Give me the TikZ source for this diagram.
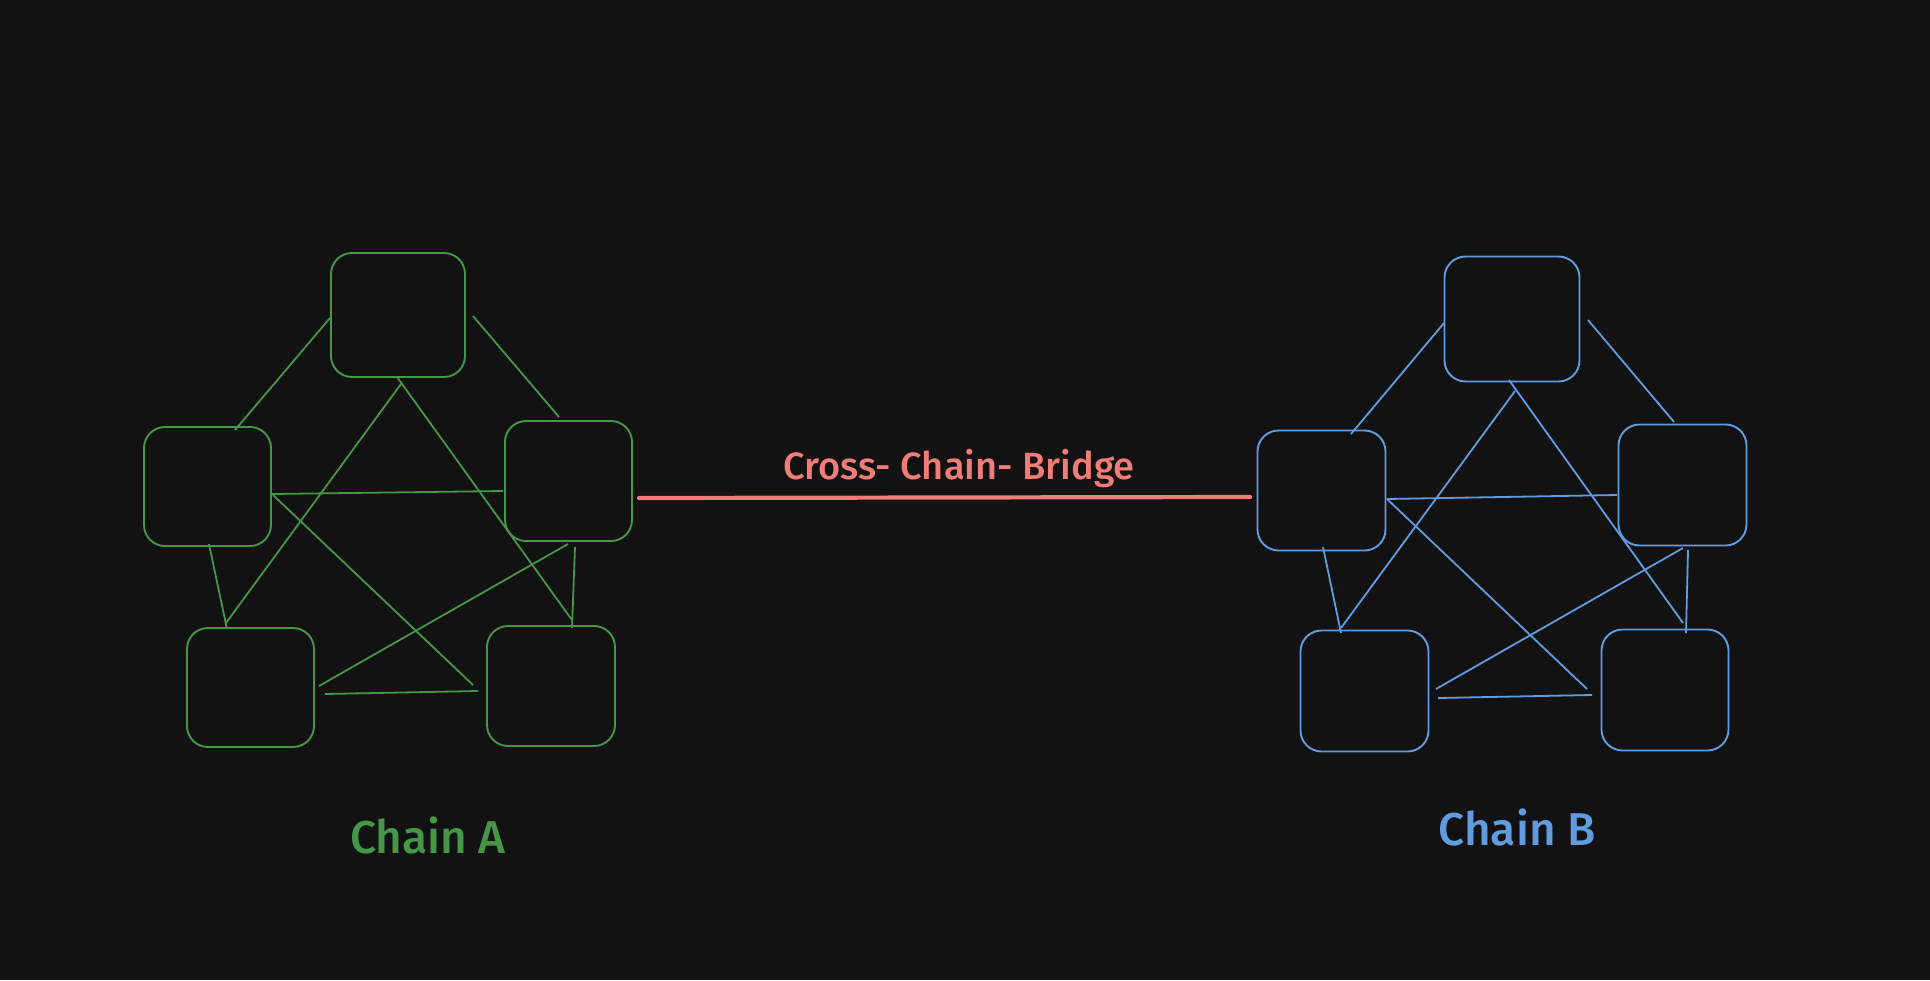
\documentclass[tikz,border=0pt]{standalone}
\usepackage{fontspec}
\setmainfont{Fira Sans}[BoldFont={Fira Sans Medium}]
\definecolor{bg}{RGB}{18,18,18}
\definecolor{cgreen}{RGB}{70,150,72}
\definecolor{cblue}{RGB}{96,156,224}
\definecolor{cred}{RGB}{242,124,118}
\tikzset{
  boxA/.style={draw=cgreen, line width=1.9pt, rounded corners=21pt, minimum width=130pt, minimum height=122pt, inner sep=0pt},
  boxB/.style={draw=cblue, line width=1.9pt, rounded corners=21pt, minimum width=130pt, minimum height=122pt, inner sep=0pt},
  linkA/.style={draw=cgreen, line width=1.8pt},
  linkB/.style={draw=cblue, line width=1.8pt},
  bridge/.style={draw=cred, line width=4.2pt, line cap=round},
  lbl/.style={inner sep=0pt, anchor=center}
}
\begin{document}
\begin{tikzpicture}[x=1pt,y=-1pt]
\fill[bg] (0,0) rectangle (1930,980);
\useasboundingbox (0,0) rectangle (1930,980);

% Chain A nodes
\node[boxA, minimum width=134pt, minimum height=124pt] (aT) at (398,315) {};
\node[boxA, minimum width=127pt, minimum height=119pt] (aL) at (207.5,486.5) {};
\node[boxA, minimum width=127pt, minimum height=120pt] (aR) at (568.5,481) {};
\node[boxA, minimum width=127pt, minimum height=119pt] (aBL) at (250.5,687.5) {};
\node[boxA, minimum width=128pt, minimum height=120pt] (aBR) at (551,686) {};

% Chain A connector end points
\coordinate (a1s) at (330,318); \coordinate (a1e) at (235,430);
\coordinate (a2s) at (473,316); \coordinate (a2e) at (559,417);
\coordinate (a3s) at (397,377); \coordinate (a3e) at (572,620);
\coordinate (a4s) at (401,384); \coordinate (a4e) at (226,623);
\coordinate (a5s) at (272,494); \coordinate (a5e) at (503,491);
\coordinate (a6s) at (273,495); \coordinate (a6e) at (473,685);
\coordinate (a7s) at (209,544); \coordinate (a7e) at (227,629);
\coordinate (a8s) at (568,544); \coordinate (a8e) at (319,686);
\coordinate (a9s) at (575,547); \coordinate (a9e) at (572,628);
\coordinate (a10s) at (325,694); \coordinate (a10e) at (478,691);
\foreach \i in {1,...,10} { \draw[linkA] (a\i s) -- (a\i e); }

% Chain B nodes
\node[boxB, minimum width=135pt, minimum height=125pt] (bT) at (1512,319) {};
\node[boxB, minimum width=128pt, minimum height=120pt] (bL) at (1321.5,490.5) {};
\node[boxB, minimum width=128pt, minimum height=121pt] (bR) at (1682.5,485) {};
\node[boxB, minimum width=128pt, minimum height=121pt] (bBL) at (1364.5,691) {};
\node[boxB, minimum width=127pt, minimum height=121pt] (bBR) at (1665,690) {};

% Chain B connector end points
\coordinate (b1s) at (1444,323); \coordinate (b1e) at (1351,434);
\coordinate (b2s) at (1588,320); \coordinate (b2e) at (1674,422);
\coordinate (b3s) at (1509,380); \coordinate (b3e) at (1683,623);
\coordinate (b4s) at (1515,391); \coordinate (b4e) at (1341,628);
\coordinate (b5s) at (1387,499); \coordinate (b5e) at (1617,495);
\coordinate (b6s) at (1387,499); \coordinate (b6e) at (1587,689);
\coordinate (b7s) at (1323,547); \coordinate (b7e) at (1341,633);
\coordinate (b8s) at (1683,548); \coordinate (b8e) at (1436,689);
\coordinate (b9s) at (1688,550); \coordinate (b9e) at (1686,633);
\coordinate (b10s) at (1438,698); \coordinate (b10e) at (1592,695);
\foreach \i in {1,...,10} { \draw[linkB] (b\i s) -- (b\i e); }

% Bridge
\coordinate (brS) at (639,498);
\coordinate (brE) at (1250,497);
\draw[bridge] (brS) -- (brE);
\node[lbl, text=cred, font=\fontsize{38}{44}\bfseries] (brL) at (959,468) {Cross- Chain- Bridge};

% Labels
\node[lbl, text=cgreen, font=\fontsize{46}{52}\bfseries] (labA) at (428,836) {Chain A};
\node[lbl, text=cblue, font=\fontsize{46}{52}\bfseries] (labB) at (1517,828) {Chain B};
\end{tikzpicture}
\end{document}
